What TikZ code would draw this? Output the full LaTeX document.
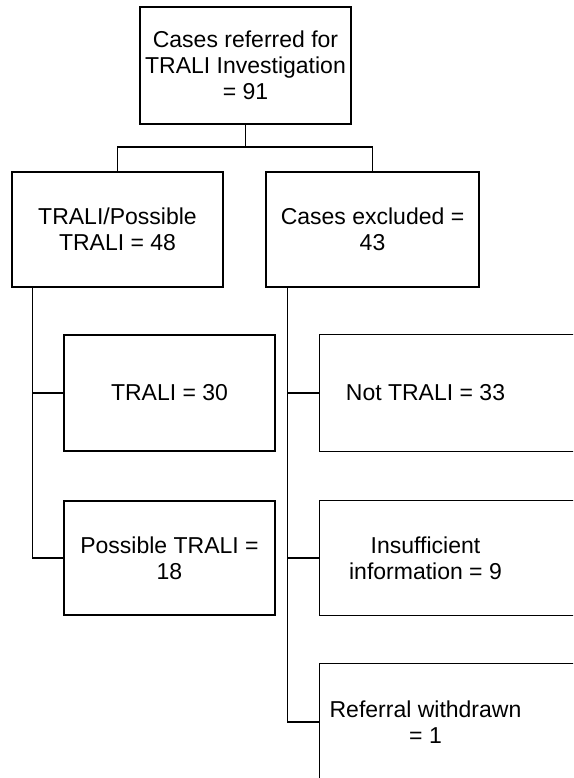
\documentclass[tikz,border=0pt]{standalone}
\usepackage{fontspec}
\setmainfont{Liberation Sans}
\usetikzlibrary{positioning}
\begin{document}
\begin{tikzpicture}[x=1pt,y=-1pt,
  box/.style={draw, line width=1.2pt, minimum width=211pt, minimum height=116pt,
    inner sep=0pt, align=center, font=\fontsize{23}{26}\selectfont},
  cell/.style={box, draw=none},
  link/.style={line width=1.2pt}]
\useasboundingbox (0,0) rectangle (573,778);
\clip (0,0) rectangle (573,778);

\node[box, minimum height=117pt] (root) at (245.5,65.5) {Cases referred for\\TRALI Investigation\\= 91};

\node[box, minimum height=115pt] (trali48) at (117.5,229.5) {TRALI/Possible\\TRALI = 48};
\node[box, minimum width=213pt, minimum height=115pt] (excl) at (372.5,229.5) {Cases excluded =\\43};

\node[box] (trali30) at (169.5,393) {TRALI = 30};
\node[box, minimum height=114pt] (poss18) at (169.5,558) {Possible TRALI =\\18};

% right column runs off the page
\node[cell] (nottrali) at (425.5,393) {Not TRALI = 33};
\node[cell, minimum height=114pt] (insuff) at (425.5,558) {Insufficient\\information = 9};
\node[cell] (withdrawn) at (425.5,722) {Referral withdrawn\\= 1};
\draw[link] ([xshift=80pt]nottrali.north east) -| (nottrali.south west) -- ([xshift=80pt]nottrali.south east);
\draw[link] ([xshift=80pt]insuff.north east) -| (insuff.south west) -- ([xshift=80pt]insuff.south east);
\draw[link] ([xshift=80pt]withdrawn.north east) -| (withdrawn.south west) -- ([xshift=80pt]withdrawn.south east);

% connectors
\coordinate (split) at (245.5,147);
\draw[link] (root.south) -- (split) -| (trali48.north);
\draw[link] (split) -| (excl.north);

\draw[link] ([xshift=21pt]trali48.south west) |- (trali30.west);
\draw[link] ([xshift=21pt]trali48.south west) |- (poss18.west);

\draw[link] ([xshift=22pt]excl.south west) |- (nottrali.west);
\draw[link] ([xshift=22pt]excl.south west) |- (insuff.west);
\draw[link] ([xshift=22pt]excl.south west) |- (withdrawn.west);
\end{tikzpicture}
\end{document}
